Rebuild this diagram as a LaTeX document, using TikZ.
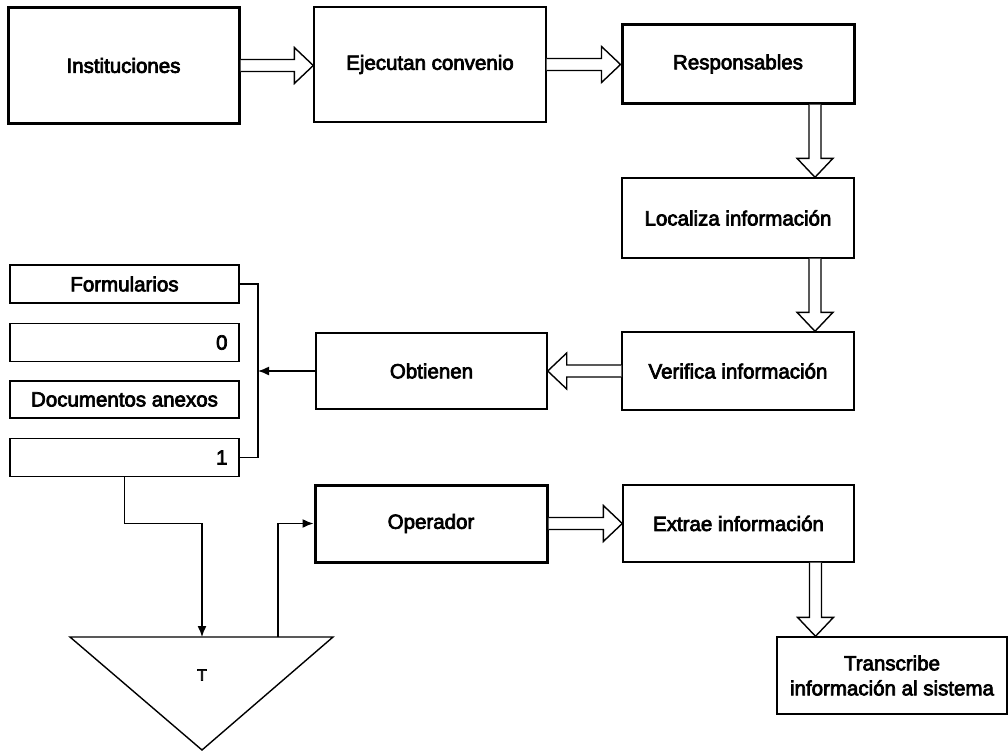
\documentclass[tikz,border=0pt]{standalone}
\usepackage{fontspec}
\setmainfont{Liberation Sans}[FakeBold=3.5]
\usetikzlibrary{arrows.meta,calc,positioning}

% hollow block arrow from #1 to #2
\newcommand{\hollowarrow}[2]{%
  \coordinate (hb) at ($(#2)!19pt!(#1)$);
  \draw[hollow] ($(#1)!6pt!90:(#2)$) -- ($(hb)!6pt!-90:(#1)$) -- ($(hb)!18pt!-90:(#1)$)
    -- (#2) -- ($(hb)!18pt!90:(#1)$) -- ($(hb)!6pt!90:(#1)$) -- ($(#1)!6pt!-90:(#2)$);}

\begin{document}
\begin{tikzpicture}[x=1pt,y=-1pt,
    every node/.style={font=\fontsize{20.5}{25}\selectfont},
    box/.style={draw,line width=1.4pt,minimum width=232pt,minimum height=78pt,inner sep=0pt},
    boldbox/.style={box,line width=3pt},
    slot/.style={draw,line width=1.4pt,minimum width=229pt,minimum height=38pt},
    hollow/.style={line width=1.4pt,fill=white,line join=miter},
    link/.style={line width=1.4pt,-{Latex[length=11pt,width=9pt]}}]
    \useasboundingbox (0,0) rectangle (1008,752);

    % top row
    \node[boldbox,minimum width=231pt,minimum height=115pt] (inst) at (123.5,65.5) {Instituciones};
    \node[box,minimum height=115pt] (ejec) at (430,64.5) {Ejecutan convenio};
    \node[boldbox] (resp) at (738,64) {Responsables};
    \node[box,minimum height=80pt] (loc) at (738,218) {Localiza información};
    \node[box] (verif) at (738,371) {Verifica información};
    \node[box,minimum width=231pt,minimum height=76pt] (obt) at (431.5,371) {Obtienen};

    % stack of documents
    \node[slot] (form) at (124.5,284) {Formularios};
    \node[slot,text width=206pt,align=right] (cero) at (124.5,342.5) {0};
    \node[slot,minimum height=37pt] (docs) at (124.5,399.5) {Documentos anexos};
    \node[slot,text width=206pt,align=right] (uno) at (124.5,457.5) {1};

    % archive
    \coordinate (tl) at (70,637);
    \coordinate (tr) at (333,637);
    \coordinate (tb) at (202,750);
    \coordinate (tin) at (202,637);
    \coordinate (tout) at (278,637);
    \draw[line width=1.4pt,line join=miter] (tl) -- (tr) -- (tb) -- cycle;
    \node[font=\fontsize{16}{18}\selectfont] (tlabel) at (202,675) {T};

    % bottom row
    \node[boldbox,minimum height=77pt] (oper) at (431,523.5) {Operador};
    \node[box,minimum width=231pt,minimum height=77pt] (extr) at (738.5,523.5) {Extrae información};
    \node[box,minimum width=230pt,minimum height=77pt,align=center] (trans) at (892,675.5) {Transcribe\\información al sistema};

    % block arrows
    \hollowarrow{inst.east}{inst.east -| ejec.west}
    \hollowarrow{ejec.east}{ejec.east -| resp.west}
    \coordinate (d1) at ($(resp.south)+(77,0)$);
    \hollowarrow{d1}{d1 |- loc.north}
    \coordinate (d2) at ($(loc.south)+(77,0)$);
    \hollowarrow{d2}{d2 |- verif.north}
    \hollowarrow{verif.west}{verif.west -| obt.east}
    \hollowarrow{oper.east}{oper.east -| extr.west}
    \coordinate (d3) at ($(extr.south)+(77,0)$);
    \hollowarrow{d3}{d3 |- trans.north}

    % thin connectors
    \coordinate (brk) at (258,371);
    \draw[line width=1.4pt] (form.east) -| (brk) |- (uno.east);
    \draw[link] (obt.west) -- (brk);
    \draw[link] (uno.south) -- ++(0,46) -| (tin);
    \draw[link] (tout) |- (oper.west);
\end{tikzpicture}
\end{document}
